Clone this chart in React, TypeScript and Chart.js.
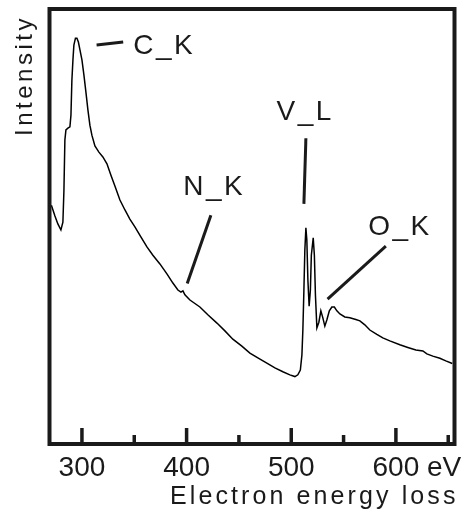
import React, { useEffect, useRef } from "react";
import { Chart, registerables } from "chart.js";

Chart.register(...registerables);

// Electron energy loss (eV)
const energy = [
  270.8, 274.2, 277.0, 279.9, 281.8, 282.8, 283.7, 284.7, 286.6, 288.5,
  289.5, 290.4, 291.4, 292.3, 293.8, 295.2, 296.6, 298.1, 300.0, 301.9,
  303.8, 305.7, 307.6, 309.5, 312.4, 316.2, 320.0, 323.9, 327.7, 331.5,
  336.3, 341.1, 345.8, 350.6, 356.3, 362.1, 367.8, 374.5, 381.2, 386.9,
  391.7, 394.6, 396.5, 398.4, 403.2, 412.7, 420.3, 429.0, 436.6, 444.2,
  452.8, 460.5, 468.1, 476.7, 484.4, 492.0, 498.7, 503.5, 506.3, 508.7,
  510.2, 511.1, 512.1, 513.0, 514.0, 514.9, 515.9, 517.1, 518.3, 519.2,
  521.0, 522.1, 523.1, 524.5, 526.4, 528.3, 530.2, 532.1, 534.0, 536.4,
  538.8, 541.2, 543.6, 546.5, 551.2, 556.0, 561.7, 565.6, 570.3, 575.1,
  581.8, 587.5, 594.2, 603.8, 611.4, 619.1, 625.8, 629.6, 635.3, 642.0,
  647.7, 653.9,
];

// Intensity (arbitrary units)
const intensity = [
  54.9, 52.4, 50.6, 49.2, 51.0, 58.4, 69.9, 72.2, 72.6, 72.9,
  75.6, 83.7, 88.3, 91.7, 93.3, 93.3, 92.4, 90.6, 88.3, 84.8,
  80.9, 76.8, 73.3, 71.0, 68.5, 67.1, 66.0, 64.4, 61.8, 59.3,
  56.1, 53.8, 51.7, 49.9, 47.6, 45.3, 43.4, 41.4, 39.1, 37.0,
  35.4, 34.9, 35.2, 34.3, 33.1, 31.5, 29.7, 27.8, 26.0, 24.1,
  22.5, 20.9, 19.8, 18.6, 17.5, 16.6, 15.9, 15.5, 15.9, 17.0,
  20.5, 26.2, 35.4, 44.6, 49.7, 46.9, 37.7, 31.7, 35.4, 43.4,
  47.4, 43.4, 34.3, 26.7, 28.0, 30.6, 29.0, 27.1, 28.5, 30.6,
  31.5, 31.5, 30.6, 29.9, 29.2, 29.0, 28.6, 28.3, 27.4, 26.2,
  25.2, 24.4, 23.7, 22.8, 22.2, 21.6, 21.4, 20.7, 20.2, 19.7,
  19.1, 18.5,
];

const xTicks = [300, 350, 400, 450, 500, 550, 600, 650];
const xMin = 269;
const xMax = 656;
const xUnit = "eV";
const xTitle = "Electron energy loss";
const yTitle = "Intensity";

// Edge annotations: label, label anchor (left, baseline), leader line start/end
const peakLabels = ["C_K", "N_K", "V_L", "O_K"];
const labelE = [349.0, 396.8, 486.0, 573.5];
const labelV = [89.7, 57.2, 74.5, 48.0];
const lineE1 = [314.0, 423.2, 514.0, 590.4];
const lineV1 = [91.7, 52.6, 70.3, 45.5];
const lineE2 = [339.4, 400.6, 512.1, 534.7];
const lineV2 = [92.4, 36.9, 55.2, 33.3];

const INK = "#1a1a1a";
const FONT = "'Liberation Sans', Arial, sans-serif";

const decorPlugin = {
  id: "decor",
  afterDraw(chart: any) {
    const { ctx, chartArea: ca, scales } = chart;
    const x = scales.x;
    const y = scales.y;
    ctx.save();
    // frame
    ctx.strokeStyle = INK;
    ctx.lineWidth = 4;
    ctx.strokeRect(ca.left, ca.top, ca.right - ca.left, ca.bottom - ca.top);
    // inward tick marks
    ctx.lineWidth = 3.5;
    ctx.lineCap = "butt";
    xTicks.forEach((v) => {
      const px = x.getPixelForValue(v);
      const len = v % 100 === 0 ? 16 : 9;
      ctx.beginPath();
      ctx.moveTo(px, ca.bottom);
      ctx.lineTo(px, ca.bottom - len);
      ctx.stroke();
    });

    // unit after last major label
    ctx.fillStyle = INK;
    ctx.font = `28px ${FONT}`;
    let ly = x.top + 7 + 16.8;
    try {
      const items = x.getLabelItems();
      const it = items.find((i: any) => i.label === "600");
      if (it) ly = it.options.translation[1] + (it.textOffset || 0);
    } catch (e) {}
    const p600 = x.getPixelForValue(600);
    const w600 = ctx.measureText("600").width;
    const wsp = ctx.measureText(" ").width;
    ctx.textAlign = "left";
    ctx.textBaseline = "middle";
    ctx.fillText(xUnit, p600 + w600 / 2 + wsp, ly);

    // axis titles
    ctx.font = `25px ${FONT}`;
    (ctx as any).letterSpacing = "3.1px";
    ctx.textBaseline = "alphabetic";
    ctx.textAlign = "left";
    ctx.fillText(xTitle, 170, 504);

    ctx.save();
    ctx.font = `24px ${FONT}`;
    (ctx as any).letterSpacing = "3.5px";
    ctx.translate(32, 136);
    ctx.rotate(-Math.PI / 2);
    ctx.fillText(yTitle, 0, 0);
    ctx.restore();

    // peak annotations
    ctx.font = `28px ${FONT}`;
    (ctx as any).letterSpacing = "2.5px";
    ctx.lineWidth = 3;
    ctx.lineCap = "butt";
    peakLabels.forEach((lab, i) => {
      ctx.beginPath();
      ctx.moveTo(x.getPixelForValue(lineE1[i]), y.getPixelForValue(lineV1[i]));
      ctx.lineTo(x.getPixelForValue(lineE2[i]), y.getPixelForValue(lineV2[i]));
      ctx.stroke();
      ctx.fillText(lab, x.getPixelForValue(labelE[i]), y.getPixelForValue(labelV[i]));
    });
    ctx.restore();
  },
};

export default function App() {
  const ref = useRef<HTMLCanvasElement | null>(null);
  useEffect(() => {
    if (!ref.current) return;
    const chart = new Chart(ref.current, {
      type: "line",
      data: {
        datasets: [
          {
            data: energy.map((e, i) => ({ x: e, y: intensity[i] })),
            borderColor: "#000",
            borderWidth: 1.5,
            pointRadius: 0,
            tension: 0,
            fill: false,
          },
        ],
      },
      options: {
        animation: false,
        responsive: false,
        devicePixelRatio: 1,
        layout: { padding: { left: 49.5, top: 9, right: 8.5, bottom: 0 } },
        plugins: { legend: { display: false }, tooltip: { enabled: false } },
        scales: {
          x: {
            type: "linear",
            min: xMin,
            max: xMax,
            position: "bottom",
            grid: { display: false, drawTicks: false },
            border: { display: false },
            afterBuildTicks: (s: any) => {
              s.ticks = xTicks.map((v) => ({ value: v }));
            },
            afterFit: (s: any) => {
              s.height = 72;
            },
            ticks: {
              autoSkip: false,
              maxRotation: 0,
              padding: 7,
              color: INK,
              font: { family: FONT, size: 28 },
              callback: (v: any) => (Number(v) % 100 === 0 ? String(v) : ""),
            },
          },
          y: { min: 0, max: 100, display: false },
        },
      },
      plugins: [decorPlugin],
    } as any);
    return () => chart.destroy();
  }, []);
  return (
    <div style={{ position: "absolute", left: 0, top: 0, width: 463, height: 516, background: "#fff" }}>
      <canvas ref={ref} width={463} height={516} style={{ display: "block" }} />
    </div>
  );
}
